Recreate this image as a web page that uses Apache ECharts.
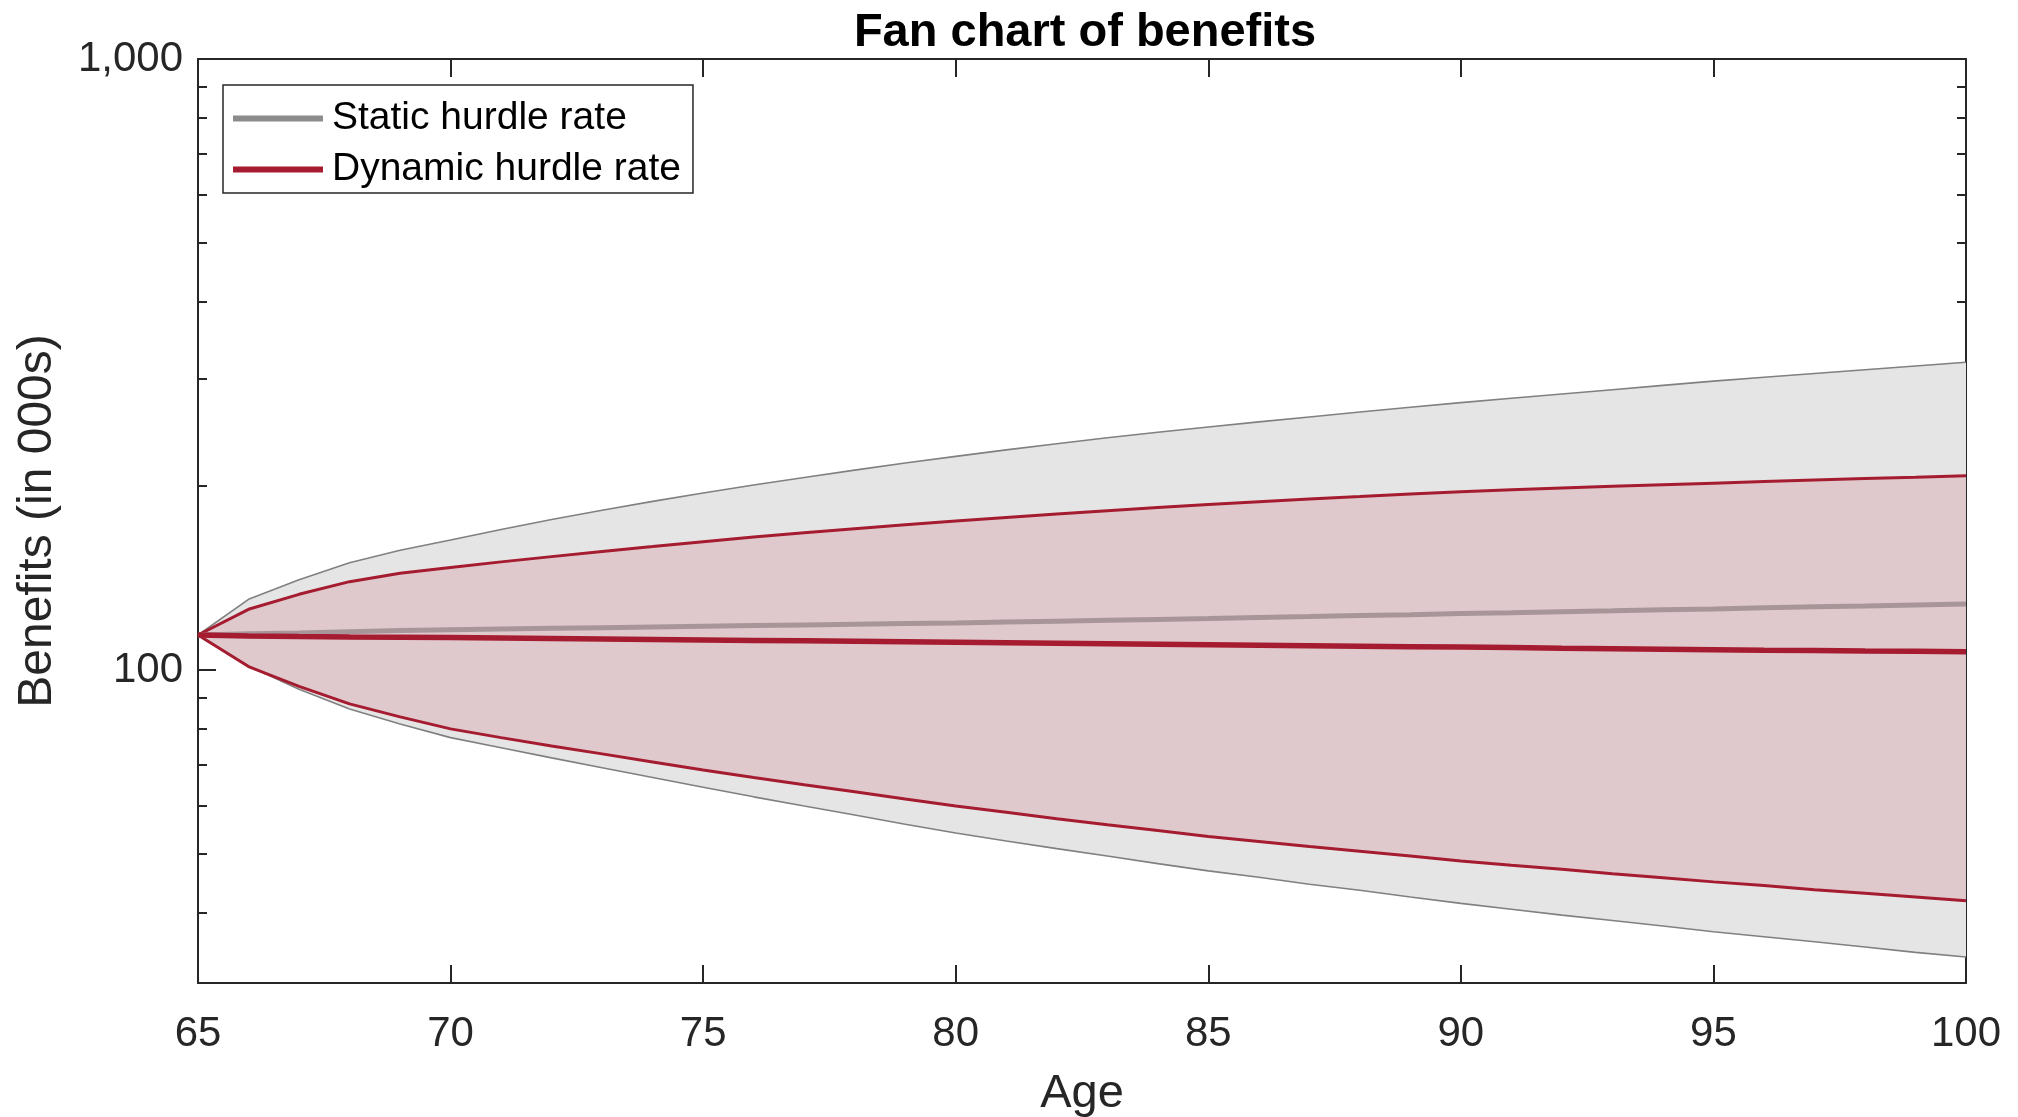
<!DOCTYPE html>
<html>
<head>
<meta charset="utf-8">
<script src="https://cdn.jsdelivr.net/npm/echarts@6/dist/echarts.min.js"></script>
<style>
html,body{margin:0;padding:0;background:#fff;}
#chart{width:2018px;height:1117px;}
</style>
</head>
<body>
<div id="chart"></div>
<script>
const ages = [65,66,67,68,69,70,71,72,73,74,75,76,77,78,79,80,81,82,83,84,85,86,87,88,89,90,91,92,93,94,95,96,97,98,99,100];

const staticUpper = [114.1,130.5,140.5,149.8,157.0,163.2,169.8,176.3,182.6,188.8,194.9,200.8,206.6,212.4,218.1,223.7,229.2,234.6,239.9,244.9,249.9,254.7,259.5,264.4,269.2,273.9,278.4,283.0,287.6,292.3,297.0,301.3,305.6,310.0,314.5,318.9];
const staticMedian = [114.1,114.6,115.0,115.5,116.0,116.4,116.7,117.0,117.3,117.6,117.9,118.2,118.5,118.8,119.1,119.4,119.8,120.2,120.6,121.0,121.4,121.9,122.3,122.8,123.2,123.7,124.1,124.6,125.0,125.5,125.9,126.4,126.9,127.3,127.8,128.2];
const staticLower = [114.1,101.5,93.0,86.3,81.6,77.5,74.6,71.8,69.2,66.7,64.3,62.0,59.9,57.9,55.9,54.1,52.5,51.0,49.6,48.2,46.9,45.8,44.6,43.6,42.5,41.5,40.6,39.7,38.9,38.1,37.3,36.6,35.9,35.2,34.5,33.9];

const dynamicUpper = [114.1,125.7,133.0,139.5,144.0,147.2,150.3,153.3,156.3,159.2,162.2,165.0,167.7,170.3,172.9,175.4,177.7,180.0,182.2,184.4,186.6,188.5,190.4,192.2,194.1,195.8,197.2,198.5,199.8,201.0,202.2,203.4,204.6,205.7,206.8,208.0];
const dynamicMedian = [114.1,113.7,113.4,113.2,113.1,113.0,112.8,112.6,112.4,112.2,112.0,111.8,111.6,111.4,111.2,111.0,110.8,110.6,110.4,110.2,110.0,109.8,109.6,109.4,109.2,109.0,108.8,108.5,108.3,108.1,107.9,107.7,107.6,107.4,107.3,107.1];
const dynamicLower = [114.1,101.3,94.0,88.0,83.8,80.1,77.5,75.1,72.9,70.7,68.6,66.7,64.9,63.2,61.5,59.9,58.5,57.1,55.8,54.6,53.4,52.4,51.4,50.5,49.6,48.7,47.9,47.2,46.4,45.7,45.0,44.4,43.7,43.1,42.5,41.9];

const xTicks = [65,70,75,80,85,90,95,100];
const yMajorTicks = [100,1000];
const yMajorLabels = ['100','1,000'];
const yMinorTicks = [40,50,60,70,80,90,200,300,400,500,600,700,800,900];
const seriesNames = ['Static hurdle rate','Dynamic hurdle rate'];

const FONT = "'Liberation Sans', Arial, Helvetica, sans-serif";
const AX = '#262626';
const GRAY_LINE = '#808080';
const GRAY_FILL = '#e5e5e5';
const RED = '#a51c30';
const RED_FILL = '#e0c9cd';
const GRAY_MED = '#a8959a';
const Y_MIN = 30.74, Y_MAX = 1000;

function pairs(vals){ return ages.map((a,i)=>[a, vals[i]]); }

function bandSeries(lower, upper, fill){
  return {
    type:'custom', xAxisIndex:0, yAxisIndex:0, silent:true,
    data:[[ages[0], lower[0]]],
    renderItem:function(params, api){
      const pts = [];
      for(let i=0;i<ages.length;i++) pts.push(api.coord([ages[i], upper[i]]));
      for(let i=ages.length-1;i>=0;i--) pts.push(api.coord([ages[i], lower[i]]));
      return {type:'polygon', shape:{points:pts}, style:{fill:fill, stroke:null}};
    }
  };
}

function lineSeries(name, vals, color, width){
  return {
    name:name, type:'line', data:pairs(vals), showSymbol:false, symbol:'none', silent:true,
    lineStyle:{color:color, width:width}, itemStyle:{color:color}
  };
}

function yAxisDef(pos, ticks, len, labels, withName){
  return {
    type:'log', position:pos, min:Y_MIN, max:Y_MAX, logBase:10,
    axisLine:{show:len>10, onZero:false, lineStyle:{color:AX, width:2}},
    axisTick:{show:true, inside:true, length:len, customValues:ticks, lineStyle:{color:AX, width:2}},
    axisLabel:labels ? {show:true, customValues:yMajorTicks, margin:15, fontSize:42, fontFamily:FONT, color:AX,
      formatter:function(v){ const k = yMajorTicks.findIndex(t=>Math.abs(t-v)<1e-6); return k>=0 ? yMajorLabels[k] : ''; }} : {show:false},
    splitLine:{show:false}, minorTick:{show:false},
    name: withName ? 'Benefits (in 000s)' : '',
    nameLocation:'middle', nameGap:136,
    nameTextStyle:{fontSize:48, fontFamily:FONT, color:AX}
  };
}

const chart = echarts.init(document.getElementById('chart'), null, {renderer:'canvas'});
chart.setOption({
  animation:false,
  backgroundColor:'#ffffff',
  title:{text:'Fan chart of benefits', left:1080, textAlign:'center', top:2,
    textStyle:{fontSize:47, fontWeight:'bold', fontFamily:FONT, color:'#000', lineHeight:52}},
  grid:{left:198, right:52, top:59, bottom:134, containLabel:false, outerBoundsMode:'none'},
  legend:{
    data:[{name:seriesNames[0], itemStyle:{color:'#8c8c8c'}}, {name:seriesNames[1], itemStyle:{color:RED}}],
    orient:'vertical', left:223, top:85,
    padding:[11,12,1,10], itemGap:6, itemWidth:90, itemHeight:6, icon:'rect',
    borderColor:AX, borderWidth:1.5, backgroundColor:'#ffffff', borderRadius:0,
    textStyle:{fontSize:39, fontFamily:FONT, color:'#000', lineHeight:45, padding:[0,0,0,4]}
  },
  xAxis:[
    {type:'value', position:'bottom', min:65, max:100, interval:5,
      axisLine:{show:true, onZero:false, lineStyle:{color:AX, width:2}},
      axisTick:{show:true, inside:true, length:18, lineStyle:{color:AX, width:2}},
      axisLabel:{show:true, margin:30, fontSize:42, fontFamily:FONT, color:AX, customValues:xTicks},
      splitLine:{show:false},
      name:'Age', nameLocation:'middle', nameGap:88,
      nameTextStyle:{fontSize:47, fontFamily:FONT, color:AX}},
    {type:'value', position:'top', min:65, max:100, interval:5,
      axisLine:{show:true, onZero:false, lineStyle:{color:AX, width:2}},
      axisTick:{show:true, inside:true, length:18, lineStyle:{color:AX, width:2}},
      axisLabel:{show:false}, splitLine:{show:false}}
  ],
  yAxis:[
    yAxisDef('left', yMajorTicks, 18, true, true),
    yAxisDef('left', yMinorTicks, 9, false, false),
    yAxisDef('right', yMajorTicks, 18, false, false),
    yAxisDef('right', yMinorTicks, 9, false, false)
  ],
  series:[
    bandSeries(staticLower, staticUpper, GRAY_FILL),
    lineSeries('', staticUpper, GRAY_LINE, 1.6),
    lineSeries('', staticLower, GRAY_LINE, 1.6),
    bandSeries(dynamicLower, dynamicUpper, RED_FILL),
    lineSeries('', dynamicUpper, RED, 3),
    lineSeries('', dynamicLower, RED, 3),
    lineSeries(seriesNames[0], staticMedian, GRAY_MED, 5),
    lineSeries(seriesNames[1], dynamicMedian, RED, 5.5)
  ]
});
</script>
</body>
</html>
